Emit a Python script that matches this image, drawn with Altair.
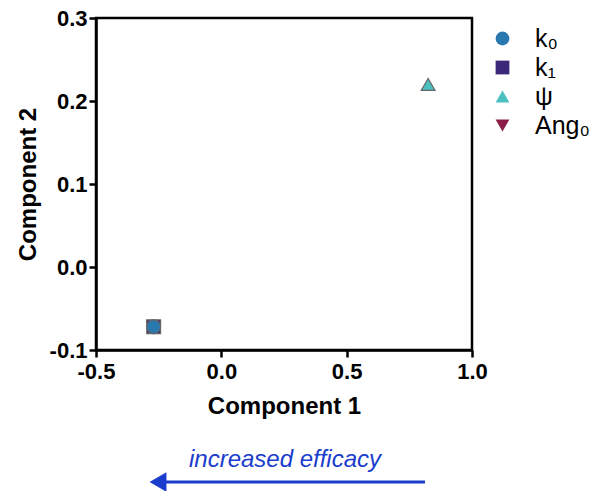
import altair as alt
import pandas as pd

# PCA loadings of the four model parameters
params = ["Ang₀", "ψ", "k₁", "k₀"]
comp1 = [-0.27, 0.825, -0.27, -0.27]
comp2 = [-0.073, 0.22, -0.072, -0.072]

legend_order = ["k₀", "k₁", "ψ", "Ang₀"]
legend_shapes = ["circle", "square", "triangle-up", "triangle-down"]
legend_colors = ["#2a78b0", "#3b2878", "#4cc0c0", "#8a1e48"]

x_ticks = [-0.5, 0.0, 0.5, 1.0]
y_ticks = [-0.1, 0.0, 0.1, 0.2, 0.3]

df = pd.DataFrame({"param": params, "c1": comp1, "c2": comp2})

FONT = "Liberation Sans"
BLUE = "#1a3ccc"
# plain hyphen for negative tick labels
label_expr = "replace(format(datum.value, '.1f'), '\u2212', '-')"

points = alt.Chart(df).mark_point(
    filled=True, size=190, stroke="#666666", strokeWidth=1.2, opacity=1
).encode(
    x=alt.X("c1:Q", title="Component 1",
            scale=alt.Scale(domain=[-0.5, 1.0], nice=False, zero=False),
            axis=alt.Axis(values=x_ticks, labelExpr=label_expr)),
    y=alt.Y("c2:Q", title="Component 2",
            scale=alt.Scale(domain=[-0.1, 0.3], nice=False, zero=False),
            axis=alt.Axis(values=y_ticks, labelExpr=label_expr)),
    color=alt.Color("param:N", scale=alt.Scale(domain=legend_order, range=legend_colors),
                    legend=alt.Legend(title=None)),
    shape=alt.Shape("param:N", scale=alt.Scale(domain=legend_order, range=legend_shapes),
                    legend=alt.Legend(title=None)),
    order=alt.Order("idx:Q"),
).transform_window(idx="row_number()")

# annotation below the x axis
note = alt.Chart(pd.DataFrame({"t": ["increased efficacy"]})).mark_text(
    font=FONT, fontSize=24, fontStyle="italic", color=BLUE, align="center", baseline="middle"
).encode(text="t:N", x=alt.value(189), y=alt.value(442))

shaft = alt.Chart(pd.DataFrame({"a": [0]})).mark_rule(
    color=BLUE, strokeWidth=3
).encode(x=alt.value(329), x2=alt.value(66), y=alt.value(464))

head = alt.Chart(pd.DataFrame({"a": [0]})).mark_point(
    shape="triangle-left", filled=True, color=BLUE, size=380, opacity=1
).encode(x=alt.value(62), y=alt.value(464))

chart = alt.layer(points, note, shaft, head).properties(
    width=376, height=332,
    autosize=alt.AutoSizeParams(type="none"),
    padding={"left": 96, "top": 18, "right": 120, "bottom": 141},
).configure_view(
    stroke="black", strokeWidth=2.5
).configure_axis(
    domainColor="black", domainWidth=2.5, tickColor="black", tickWidth=2.5, tickSize=7,
    grid=False, labelFont=FONT, labelFontSize=22, labelFontWeight="bold", labelColor="black",
    titleFont=FONT, titleFontSize=24, titleFontWeight="bold", titleColor="black",
    labelPadding=3,
).configure_axisX(
    titlePadding=12, labelFlush=False, labelPadding=4
).configure_axisY(
    titlePadding=9, labelFlush=False, labelPadding=2
).configure_legend(
    orient="none", legendX=394, legendY=8, labelFont=FONT, labelFontSize=25,
    labelColor="black", symbolSize=190, symbolStrokeWidth=1, symbolStrokeColor="#777777",
    rowPadding=3, labelOffset=20, symbolOpacity=1
)

chart.save("out.html", embed_options={"renderer": "svg", "actions": False})
